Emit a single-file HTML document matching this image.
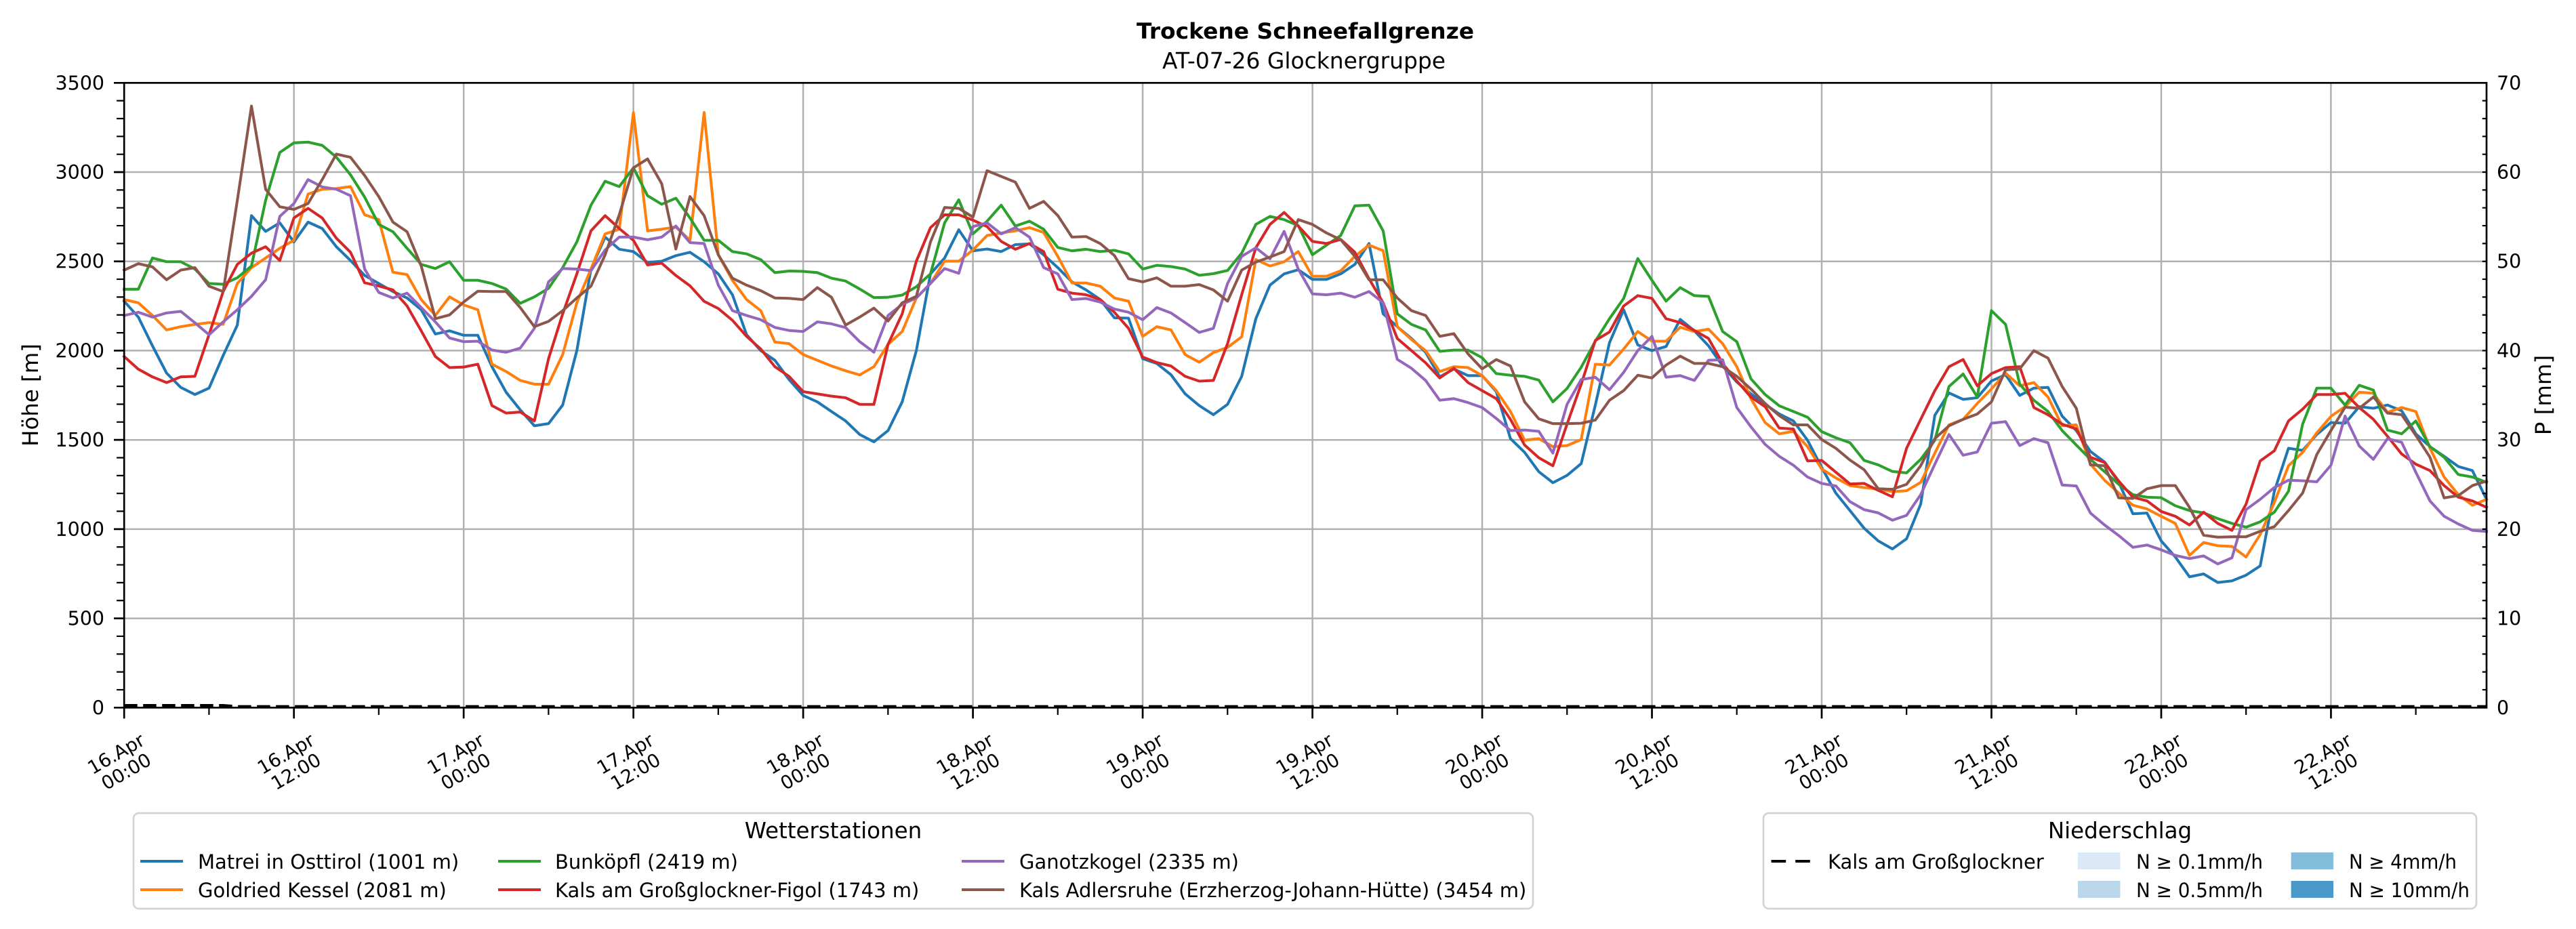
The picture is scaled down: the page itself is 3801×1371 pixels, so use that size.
<!DOCTYPE html>
<html><head><meta charset="utf-8"><style>html,body{margin:0;padding:0;background:#fff}svg{display:block}text{font-family:"DejaVu Sans","Liberation Sans",sans-serif;fill:#000}</style></head><body>
<svg xmlns="http://www.w3.org/2000/svg" width="3801" height="1371" viewBox="0 0 3801 1371">
<rect width="3801" height="1371" fill="#fff"/>
<text x="1926" y="57" font-size="32" font-weight="bold" text-anchor="middle" textLength="498" lengthAdjust="spacingAndGlyphs">Trockene Schneefallgrenze</text>
<text x="1924" y="101" font-size="32.5" text-anchor="middle" textLength="418" lengthAdjust="spacingAndGlyphs">AT-07-26 Glocknergruppe</text>
<g stroke="#b0b0b0" stroke-width="2.5">
<line x1="433.7" y1="122.3" x2="433.7" y2="1044.3"/><line x1="684.2" y1="122.3" x2="684.2" y2="1044.3"/><line x1="934.6" y1="122.3" x2="934.6" y2="1044.3"/><line x1="1185.1" y1="122.3" x2="1185.1" y2="1044.3"/><line x1="1435.6" y1="122.3" x2="1435.6" y2="1044.3"/><line x1="1686.1" y1="122.3" x2="1686.1" y2="1044.3"/><line x1="1936.6" y1="122.3" x2="1936.6" y2="1044.3"/><line x1="2187" y1="122.3" x2="2187" y2="1044.3"/><line x1="2437.5" y1="122.3" x2="2437.5" y2="1044.3"/><line x1="2688" y1="122.3" x2="2688" y2="1044.3"/><line x1="2938.5" y1="122.3" x2="2938.5" y2="1044.3"/><line x1="3189" y1="122.3" x2="3189" y2="1044.3"/><line x1="3439.4" y1="122.3" x2="3439.4" y2="1044.3"/>
<line x1="183.2" y1="912.6" x2="3669" y2="912.6"/><line x1="183.2" y1="780.9" x2="3669" y2="780.9"/><line x1="183.2" y1="649.2" x2="3669" y2="649.2"/><line x1="183.2" y1="517.4" x2="3669" y2="517.4"/><line x1="183.2" y1="385.7" x2="3669" y2="385.7"/><line x1="183.2" y1="254" x2="3669" y2="254"/>
</g>
<g transform="translate(183.2,1044.3) scale(20.873,-0.26343)" fill="none" stroke-width="4.05" stroke-linejoin="round" stroke-linecap="square">
<polyline vector-effect="non-scaling-stroke" stroke="#1f77b4" points="0,2277 1,2188 2,2027 3,1874 4,1794 5,1754 6,1790 7,1973 8,2143 9,2756 10,2668 11,2716 12,2609 13,2720 14,2684 15,2582 16,2505 17,2421 18,2376 19,2331 20,2295 21,2229 22,2093 23,2111 24,2086 25,2086 26,1910 27,1767 28,1668 29,1579 30,1591 31,1695 32,2000 33,2457 34,2636 35,2568 36,2555 37,2494 38,2501 39,2532 40,2551 41,2498 42,2430 43,2313 44,2089 45,2000 46,1946 47,1838 48,1749 49,1713 50,1659 51,1606 52,1530 53,1489 54,1552 55,1713 56,2000 57,2430 58,2519 59,2677 60,2559 61,2569 62,2555 63,2594 64,2598 65,2537 66,2465 67,2385 68,2340 69,2286 70,2184 71,2182 72,1955 73,1928 74,1865 75,1758 76,1692 77,1641 78,1699 79,1856 80,2179 81,2367 82,2430 83,2453 84,2399 85,2399 86,2430 87,2483 88,2600 89,2206 90,2134 91,2068 92,1991 93,1853 94,1897 95,1860 96,1860 97,1770 98,1507 99,1430 100,1322 101,1260 102,1301 103,1367 104,1695 105,2044 106,2229 107,2032 108,2000 109,2023 110,2175 111,2111 112,2027 113,1914 114,1824 115,1758 116,1699 117,1645 118,1606 119,1498 120,1346 121,1202 122,1104 123,1005 124,934 125,889 126,946 127,1140 128,1638 129,1763 130,1727 131,1736 132,1830 133,1865 134,1749 135,1790 136,1794 137,1633 138,1552 139,1435 140,1376 141,1262 142,1086 143,1090 144,934 145,844 146,733 147,749 148,701 149,710 150,742 151,794 152,1212 153,1453 154,1441 155,1530 156,1597 157,1593 158,1686 159,1677 160,1695 161,1663 162,1534 163,1462 164,1408 165,1351 166,1328 167,1167"/>
<polyline vector-effect="non-scaling-stroke" stroke="#ff7f0e" points="0,2286 1,2268 2,2197 3,2116 4,2134 5,2147 6,2157 7,2147 8,2376 9,2465 10,2519 11,2573 12,2618 13,2877 14,2904 15,2908 16,2919 17,2761 18,2734 19,2439 20,2426 21,2286 22,2197 23,2301 24,2256 25,2229 26,1924 27,1883 28,1833 29,1812 30,1812 31,1978 32,2268 33,2457 34,2654 35,2680 36,3334 37,2671 38,2680 39,2693 40,2618 41,3334 42,2537 43,2394 44,2286 45,2224 46,2048 47,2039 48,1978 49,1946 50,1914 51,1887 52,1864 53,1910 54,2035 55,2107 56,2295 57,2376 58,2501 59,2501 60,2564 61,2645 62,2659 63,2671 64,2689 65,2662 66,2528 67,2379 68,2379 69,2361 70,2295 71,2277 72,2080 73,2134 74,2116 75,1978 76,1935 77,1989 78,2018 79,2077 80,2510 81,2474 82,2498 83,2555 84,2417 85,2417 86,2447 87,2528 88,2591 89,2560 90,2134 91,2062 92,2000 93,1883 94,1910 95,1905 96,1860 97,1776 98,1659 99,1498 100,1507 101,1462 102,1468 103,1502 104,1924 105,1919 106,2009 107,2107 108,2053 109,2053 110,2131 111,2107 112,2120 113,2039 114,1910 115,1731 116,1597 117,1534 118,1548 119,1462 120,1337 121,1287 122,1244 123,1233 124,1224 125,1210 126,1215 127,1262 128,1426 129,1584 130,1615 131,1704 132,1785 133,1874 134,1803 135,1821 136,1740 137,1579 138,1584 139,1364 140,1274 141,1202 142,1134 143,1113 144,1072 145,1032 146,853 147,925 148,907 149,903 150,844 151,970 152,1149 153,1355 154,1430 155,1539 156,1632 157,1686 158,1767 159,1761 160,1654 161,1681 162,1659 163,1453 164,1292 165,1193 166,1134 167,1167"/>
<polyline vector-effect="non-scaling-stroke" stroke="#2ca02c" points="0,2344 1,2344 2,2519 3,2498 4,2498 5,2457 6,2376 7,2372 8,2408 9,2474 10,2842 11,3110 12,3164 13,3168 14,3150 15,3084 16,2985 17,2860 18,2707 19,2666 20,2573 21,2483 22,2460 23,2498 24,2394 25,2394 26,2376 27,2345 28,2265 29,2301 30,2349 31,2465 32,2609 33,2815 34,2949 35,2919 36,3024 37,2868 38,2820 39,2854 40,2743 41,2618 42,2618 43,2555 44,2542 45,2510 46,2437 47,2446 48,2444 49,2437 50,2406 51,2390 52,2345 53,2297 54,2299 55,2311 56,2358 57,2430 58,2716 59,2845 60,2654 61,2725 62,2815 63,2698 64,2725 65,2680 66,2578 67,2559 68,2568 69,2555 70,2562 71,2542 72,2457 73,2478 74,2471 75,2457 76,2422 77,2431 78,2449 79,2546 80,2707 81,2752 82,2734 83,2700 84,2537 85,2591 86,2645 87,2811 88,2815 89,2671 90,2206 91,2147 92,2116 93,1996 94,2003 95,2003 96,1960 97,1871 98,1862 99,1856 100,1835 101,1713 102,1788 103,1907 104,2053 105,2179 106,2292 107,2516 108,2394 109,2277 110,2353 111,2308 112,2304 113,2107 114,2050 115,1842 116,1754 117,1691 118,1659 119,1627 120,1546 121,1512 122,1484 123,1385 124,1360 125,1323 126,1315 127,1391 128,1498 129,1799 130,1869 131,1740 132,2224 133,2147 134,1812 135,1722 136,1659 137,1552 138,1471 139,1391 140,1322 141,1251 142,1193 143,1179 144,1176 145,1131 146,1104 147,1091 148,1059 149,1032 150,1011 151,1041 152,1095 153,1212 154,1588 155,1790 156,1790 157,1695 158,1806 159,1779 160,1555 161,1534 162,1606 163,1462 164,1403 165,1306 166,1292 167,1262"/>
<polyline vector-effect="non-scaling-stroke" stroke="#d62728" points="0,1967 1,1896 2,1853 3,1821 4,1853 5,1856 6,2089 7,2331 8,2483 9,2546 10,2582 11,2505 12,2743 13,2797 14,2743 15,2630 16,2551 17,2380 18,2362 19,2340 20,2250 21,2111 22,1967 23,1905 24,1908 25,1924 26,1692 27,1650 28,1656 29,1606 30,1955 31,2206 32,2430 33,2671 34,2756 35,2684 36,2618 37,2480 38,2490 39,2421 40,2363 41,2276 42,2236 43,2170 44,2080 45,2009 46,1910 47,1856 48,1770 49,1758 50,1745 51,1736 52,1699 53,1699 54,2035 55,2206 56,2501 57,2689 58,2761 59,2761 60,2731 61,2695 62,2612 63,2568 64,2600 65,2555 66,2344 67,2322 68,2313 69,2286 70,2215 71,2125 72,1964 73,1933 74,1914 75,1856 76,1829 77,1833 78,2039 79,2313 80,2576 81,2707 82,2774 83,2698 84,2612 85,2600 86,2623 87,2551 88,2403 89,2268 90,2068 91,2000 92,1932 93,1847 94,1901 95,1821 96,1776 97,1731 98,1615 99,1471 100,1400 101,1355 102,1588 103,1812 104,2057 105,2104 106,2250 107,2308 108,2293 109,2179 110,2157 111,2113 112,2068 113,1928 114,1830 115,1740 116,1686 117,1566 118,1561 119,1382 120,1385 121,1319 122,1253 123,1256 124,1217 125,1181 126,1453 127,1615 128,1776 129,1910 130,1950 131,1803 132,1871 133,1905 134,1910 135,1681 136,1641 137,1588 138,1561 139,1403 140,1373 141,1269 142,1179 143,1158 144,1099 145,1072 146,1023 147,1095 148,1032 149,993 150,1140 151,1382 152,1439 153,1606 154,1672 155,1754 156,1754 157,1761 158,1681 159,1615 160,1520 161,1421 162,1364 163,1328 164,1244 165,1179 166,1158 167,1122"/>
<polyline vector-effect="non-scaling-stroke" stroke="#9467bd" points="0,2197 1,2215 2,2188 3,2211 4,2220 5,2156 6,2089 7,2161 8,2229 9,2304 10,2397 11,2752 12,2824 13,2958 14,2917 15,2904 16,2868 17,2457 18,2326 19,2295 20,2322 21,2241 22,2161 23,2071 24,2050 25,2053 26,2003 27,1991 28,2014 29,2125 30,2385 31,2460 32,2457 33,2448 34,2564 35,2636 36,2636 37,2621 38,2636 39,2698 40,2605 41,2600 42,2367 43,2224 44,2197 45,2173 46,2130 47,2113 48,2107 49,2161 50,2150 51,2129 52,2050 53,1991 54,2197 55,2259 56,2295 57,2376 58,2460 59,2433 60,2695 61,2716 62,2654 63,2689 64,2636 65,2465 66,2430 67,2286 68,2292 69,2272 70,2233 71,2215 72,2173 73,2241 74,2211 75,2157 76,2102 77,2125 78,2376 79,2528 80,2576 81,2514 82,2668 83,2457 84,2318 85,2313 86,2322 87,2299 88,2331 89,2268 90,1951 91,1901 92,1833 93,1722 94,1731 95,1709 96,1681 97,1620 98,1552 99,1555 100,1548 101,1426 102,1699 103,1838 104,1851 105,1781 106,1878 107,2000 108,2080 109,1851 110,1860 111,1833 112,1946 113,1949 114,1681 115,1573 116,1475 117,1408 118,1358 119,1292 120,1256 121,1242 122,1154 123,1109 124,1091 125,1050 126,1077 127,1193 128,1364 129,1530 130,1414 131,1432 132,1593 133,1602 134,1468 135,1507 136,1484 137,1247 138,1242 139,1090 140,1023 141,964 142,898 143,911 144,884 145,853 146,835 147,850 148,805 149,839 150,1109 151,1167 152,1233 153,1274 154,1271 155,1265 156,1358 157,1633 158,1466 159,1391 160,1507 161,1486 162,1319 163,1158 164,1072 165,1029 166,993 167,987"/>
<polyline vector-effect="non-scaling-stroke" stroke="#8c564b" points="0,2451 1,2487 2,2469 3,2397 4,2451 5,2465 6,2361 7,2331 8,2842 9,3370 10,2904 11,2806 12,2791 13,2824 14,2958 15,3101 16,3083 17,2981 18,2863 19,2720 20,2666 21,2474 22,2179 23,2200 24,2272 25,2333 26,2331 27,2331 28,2241 29,2134 30,2164 31,2224 32,2295 33,2361 34,2537 35,2761 36,3024 37,3074 38,2935 39,2569 40,2863 41,2756 42,2537 43,2406 44,2367 45,2336 46,2295 47,2293 48,2286 49,2353 50,2299 51,2143 52,2188 53,2238 54,2166 55,2268 56,2304 57,2609 58,2802 59,2797 60,2748 61,3008 62,2976 63,2944 64,2797 65,2836 66,2757 67,2636 68,2639 69,2600 70,2533 71,2403 72,2385 73,2408 74,2361 75,2361 76,2370 77,2340 78,2277 79,2451 80,2496 81,2524 82,2555 83,2734 84,2707 85,2659 86,2621 87,2528 88,2397 89,2397 90,2295 91,2224 92,2197 93,2080 94,2095 95,1982 96,1898 97,1950 98,1914 99,1713 100,1618 101,1591 102,1591 103,1593 104,1611 105,1722 106,1776 107,1862 108,1847 109,1919 110,1969 111,1928 112,1928 113,1910 114,1856 115,1785 116,1704 117,1636 118,1584 119,1584 120,1502 121,1453 122,1387 123,1333 124,1226 125,1223 126,1251 127,1355 128,1507 129,1579 130,1615 131,1645 132,1713 133,1892 134,1898 135,2000 136,1958 137,1799 138,1677 139,1360 140,1355 141,1175 142,1172 143,1226 144,1244 145,1244 146,1122 147,966 148,955 149,957 150,957 151,988 152,1014 153,1104 154,1202 155,1418 156,1552 157,1683 158,1677 159,1740 160,1650 161,1641 162,1525 163,1403 164,1175 165,1188 166,1244 167,1269"/>
</g>
<rect x="183.2" y="122.3" width="3485.8" height="922" fill="none" stroke="#000" stroke-width="2.7"/>
<polyline points="183.2,1041 329,1041 350,1042.6 3669,1042.6" fill="none" stroke="#000" stroke-width="4" stroke-dasharray="19.5 8.5"/>
<line x1="177.6" y1="1045.4" x2="177.6" y2="121" stroke="#000" stroke-width="11" stroke-dasharray="2.2 24.143"/>
<line x1="175.5" y1="1045.65" x2="175.5" y2="120" stroke="#000" stroke-width="15" stroke-dasharray="2.7 129.015"/>
<line x1="3665.9" y1="1045.4" x2="3665.9" y2="121" stroke="#000" stroke-width="6.3" stroke-dasharray="2.2 24.143"/>
<line x1="181.85" y1="1052.4" x2="3670" y2="1052.4" stroke="#000" stroke-width="16" stroke-dasharray="2.7 247.78"/>
<line x1="307.3" y1="1049.6" x2="3670" y2="1049.6" stroke="#000" stroke-width="10.7" stroke-dasharray="2.2 248.28"/>
<g font-size="28.5" text-anchor="end">
<text x="154" y="1054.3">0</text><text x="154" y="922.6">500</text><text x="154" y="790.9">1000</text><text x="154" y="659.2">1500</text><text x="154" y="527.4">2000</text><text x="154" y="395.7">2500</text><text x="154" y="264">3000</text><text x="154" y="132.3">3500</text>
</g>
<g font-size="28.5">
<text x="3684" y="1054.3">0</text><text x="3684" y="922.6">10</text><text x="3684" y="790.9">20</text><text x="3684" y="659.2">30</text><text x="3684" y="527.4">40</text><text x="3684" y="395.7">50</text><text x="3684" y="264">60</text><text x="3684" y="132.3">70</text>
</g>
<text transform="translate(56,583) rotate(-90)" font-size="32.4" text-anchor="middle">Höhe [m]</text>
<text transform="translate(3764,583) rotate(-90)" font-size="32.4" text-anchor="middle">P [mm]</text>
<g font-size="27.5" text-anchor="middle">
<text transform="translate(179,1126) rotate(-30)"><tspan x="0" y="-6">16.Apr</tspan><tspan x="0" y="24">00:00</tspan></text>
<text transform="translate(429.5,1126) rotate(-30)"><tspan x="0" y="-6">16.Apr</tspan><tspan x="0" y="24">12:00</tspan></text>
<text transform="translate(680,1126) rotate(-30)"><tspan x="0" y="-6">17.Apr</tspan><tspan x="0" y="24">00:00</tspan></text>
<text transform="translate(930.4,1126) rotate(-30)"><tspan x="0" y="-6">17.Apr</tspan><tspan x="0" y="24">12:00</tspan></text>
<text transform="translate(1180.9,1126) rotate(-30)"><tspan x="0" y="-6">18.Apr</tspan><tspan x="0" y="24">00:00</tspan></text>
<text transform="translate(1431.4,1126) rotate(-30)"><tspan x="0" y="-6">18.Apr</tspan><tspan x="0" y="24">12:00</tspan></text>
<text transform="translate(1681.9,1126) rotate(-30)"><tspan x="0" y="-6">19.Apr</tspan><tspan x="0" y="24">00:00</tspan></text>
<text transform="translate(1932.4,1126) rotate(-30)"><tspan x="0" y="-6">19.Apr</tspan><tspan x="0" y="24">12:00</tspan></text>
<text transform="translate(2182.8,1126) rotate(-30)"><tspan x="0" y="-6">20.Apr</tspan><tspan x="0" y="24">00:00</tspan></text>
<text transform="translate(2433.3,1126) rotate(-30)"><tspan x="0" y="-6">20.Apr</tspan><tspan x="0" y="24">12:00</tspan></text>
<text transform="translate(2683.8,1126) rotate(-30)"><tspan x="0" y="-6">21.Apr</tspan><tspan x="0" y="24">00:00</tspan></text>
<text transform="translate(2934.3,1126) rotate(-30)"><tspan x="0" y="-6">21.Apr</tspan><tspan x="0" y="24">12:00</tspan></text>
<text transform="translate(3184.8,1126) rotate(-30)"><tspan x="0" y="-6">22.Apr</tspan><tspan x="0" y="24">00:00</tspan></text>
<text transform="translate(3435.2,1126) rotate(-30)"><tspan x="0" y="-6">22.Apr</tspan><tspan x="0" y="24">12:00</tspan></text>
</g>
<rect x="197" y="1200" width="2065" height="141" rx="8" fill="#fff" stroke="#d4d4d4" stroke-width="2.7"/>
<text x="1229.5" y="1237" font-size="32.5" text-anchor="middle">Wetterstationen</text>
<g stroke-width="4.05">
<line x1="207" y1="1271" x2="270" y2="1271" stroke="#1f77b4"/>
<line x1="207" y1="1313" x2="270" y2="1313" stroke="#ff7f0e"/>
<line x1="735" y1="1271" x2="798" y2="1271" stroke="#2ca02c"/>
<line x1="735" y1="1313" x2="798" y2="1313" stroke="#d62728"/>
<line x1="1419" y1="1271" x2="1482" y2="1271" stroke="#9467bd"/>
<line x1="1419" y1="1313" x2="1482" y2="1313" stroke="#8c564b"/>
</g>
<g font-size="29">
<text x="292" y="1282">Matrei in Osttirol (1001 m)</text>
<text x="292" y="1324">Goldried Kessel (2081 m)</text>
<text x="819" y="1282">Bunköpfl (2419 m)</text>
<text x="819" y="1324">Kals am Großglockner-Figol (1743 m)</text>
<text x="1504" y="1282">Ganotzkogel (2335 m)</text>
<text x="1504" y="1324">Kals Adlersruhe (Erzherzog-Johann-Hütte) (3454 m)</text>
</g>
<rect x="2602" y="1200" width="1052" height="141" rx="8" fill="#fff" stroke="#d4d4d4" stroke-width="2.7"/>
<text x="3128" y="1237" font-size="32.5" text-anchor="middle">Niederschlag</text>
<line x1="2613.6" y1="1271" x2="2676" y2="1271" stroke="#000" stroke-width="4.05" stroke-dasharray="21.6 14"/>
<rect x="3066" y="1258" width="62.5" height="25" fill="#dbe9f6"/>
<rect x="3066" y="1300" width="62.5" height="25" fill="#bad6eb"/>
<rect x="3380.6" y="1258" width="62.5" height="25" fill="#84bcdb"/>
<rect x="3380.6" y="1300" width="62.5" height="25" fill="#4b98ca"/>
<g font-size="29">
<text x="2697" y="1282">Kals am Großglockner</text>
<text x="3152" y="1282" textLength="187" lengthAdjust="spacingAndGlyphs">N ≥ 0.1mm/h</text>
<text x="3152" y="1324" textLength="187" lengthAdjust="spacingAndGlyphs">N ≥ 0.5mm/h</text>
<text x="3466" y="1282" textLength="159" lengthAdjust="spacingAndGlyphs">N ≥ 4mm/h</text>
<text x="3466" y="1324" textLength="178" lengthAdjust="spacingAndGlyphs">N ≥ 10mm/h</text>
</g>
</svg>
</body></html>
